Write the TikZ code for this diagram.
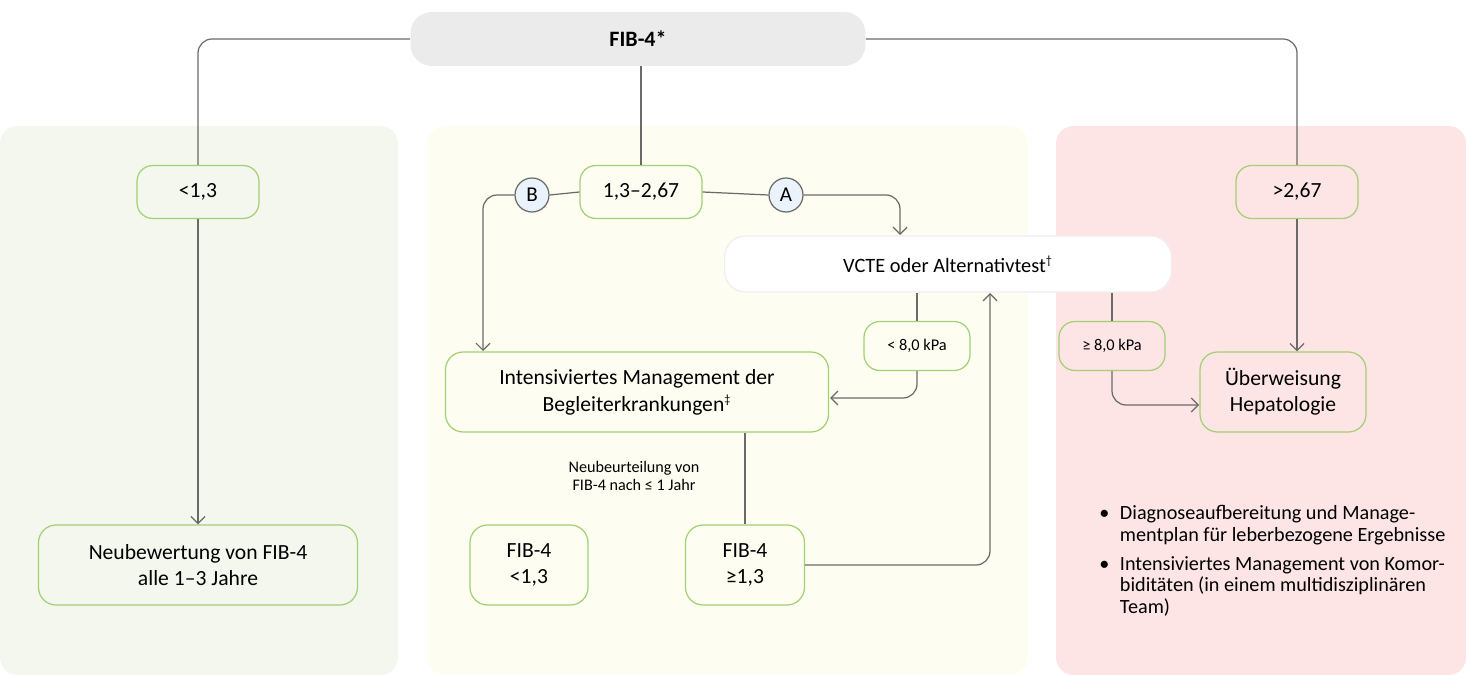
\documentclass[tikz,border=0pt]{standalone}
\usepackage{fontspec}
\setmainfont{Carlito}
\usetikzlibrary{arrows.meta}

\definecolor{gruen}{HTML}{A3D071}
\definecolor{linie}{HTML}{6A6A6A}
\definecolor{grau}{HTML}{EBEBEB}
\definecolor{hgLinks}{HTML}{F3F7EE}
\definecolor{hgMitte}{HTML}{FDFEF1}
\definecolor{hgRechts}{HTML}{FDE4E5}
\definecolor{kreis}{HTML}{EAF2FB}

\begin{document}
\begin{tikzpicture}[x=0.02cm,y=-0.02cm,
  font=\fontsize{12.3}{14.8}\selectfont,
  line/.style={draw=linie,line width=0.7pt,rounded corners=8pt},
  arr/.style={line,-{Straight Barb[length=4pt,width=8pt]}},
  schwelle/.style={draw=gruen,line width=0.7pt,rounded corners=9pt,minimum width=2.44cm,minimum height=1.06cm,inner sep=0pt},
  kpa/.style={schwelle,minimum width=2.12cm,minimum height=0.98cm,font=\fontsize{9.3}{11}\selectfont},
  kasten/.style={draw=gruen,line width=0.7pt,rounded corners=10pt,minimum height=1.6cm,inner sep=0pt,align=center},
  marke/.style={circle,draw=linie,fill=kreis,line width=0.7pt,minimum size=0.68cm,inner sep=0pt,font=\fontsize{12}{14}\selectfont}]
\useasboundingbox (0,0) rectangle (1466,675);

% Hintergrundflaechen
\fill[hgLinks,rounded corners=10pt] (0,126) rectangle (398,675);
\fill[hgMitte,rounded corners=10pt] (427,126) rectangle (1028,675);
\fill[hgRechts,rounded corners=10pt] (1056,126) rectangle (1466,675);

\node[fill=grau,rounded corners=12pt,minimum width=9.1cm,minimum height=1.08cm,font=\fontsize{12.5}{14}\selectfont\bfseries] (fib) at (638,39) {FIB-4*};

\node[schwelle] (lo) at (198,192) {<1,3};
\node[schwelle] (mid) at (641,192) {1,3--2,67};
\node[schwelle] (hi) at (1297,192) {>2,67};

\node[marke] (B) at (532,195) {B};
\node[marke] (A) at (786,195) {A};

\node[draw=grau!80,fill=white,line width=0.7pt,rounded corners=12pt,minimum width=8.94cm,minimum height=1.12cm,font=\fontsize{11.6}{14}\selectfont] (vcte) at (948,264) {VCTE oder Alternativtest\textsuperscript{\scriptsize\textdagger}};

\node[kpa] (lowk) at (917,346) {< 8,0 kPa};
\node[kpa] (hik) at (1112,346) {≥ 8,0 kPa};

\node[kasten,minimum width=7.66cm,font=\fontsize{12.3}{15.3}\selectfont] (int) at (637,392) {Intensiviertes Management der\\Begleiterkrankungen\textsuperscript{\scriptsize\textdaggerdbl}};
\node[kasten,minimum width=3.32cm] (ueb) at (1283,392) {Überweisung\\Hepatologie};
\node[kasten,minimum width=6.38cm] (neu) at (198,565) {Neubewertung von FIB-4\\alle 1--3 Jahre};
\node[kasten,minimum width=2.36cm] (klein) at (529,565) {FIB-4\\<1,3};
\node[kasten,minimum width=2.38cm] (gross) at (745,565) {FIB-4\\≥1,3};

\node[align=center,font=\fontsize{9.2}{10}\selectfont] (neubeurt) at (634,476) {Neubeurteilung von\\FIB-4 nach ≤ 1 Jahr};

\node[anchor=north west,inner sep=0pt,font=\fontsize{11.5}{12.4}\selectfont] (liste) at (1099,504)
  {\begin{tabular}{@{}l@{\hspace{6pt}}l@{}}
  \textbullet & Diagnoseaufbereitung und Manage-\\
   & mentplan für leberbezogene Ergebnisse\\[4pt]
  \textbullet & Intensiviertes Management von Komor-\\
   & biditäten (in einem multidisziplinären\\
   & Team)
  \end{tabular}};

% Hilfspunkte
\coordinate (intB) at (483,351);
\coordinate (vcteA) at (900,235);
\coordinate (vcteR) at (990,293);
\coordinate (intR) at (830,398);
\coordinate (uebL) at (1199,405);

\draw[line] (fib.west) -| (lo.north);
\draw[line] (fib.east) -| (hi.north);
\draw[line] (fib.south -| mid.north) -- (mid.north);

\draw[arr] (lo.south) -- (neu.north);
\draw[line] (mid.west) -- (B.east);
\draw[arr] (B.west) -| (intB);
\draw[line] (mid.east) -- (A.west);
\draw[arr] (A.east) -| (vcteA);
\draw[arr] (hi.south) -- (hi.south |- ueb.north);

\draw[line] (lowk.north |- vcte.south) -- (lowk.north);
\draw[arr] (lowk.south) |- (intR);
\draw[line] (hik.north |- vcte.south) -- (hik.north);
\draw[arr] (hik.south) |- (uebL);

\draw[line] (gross.north |- int.south) -- (gross.north);
\draw[arr] (gross.east) -| (vcteR);
\end{tikzpicture}
\end{document}
